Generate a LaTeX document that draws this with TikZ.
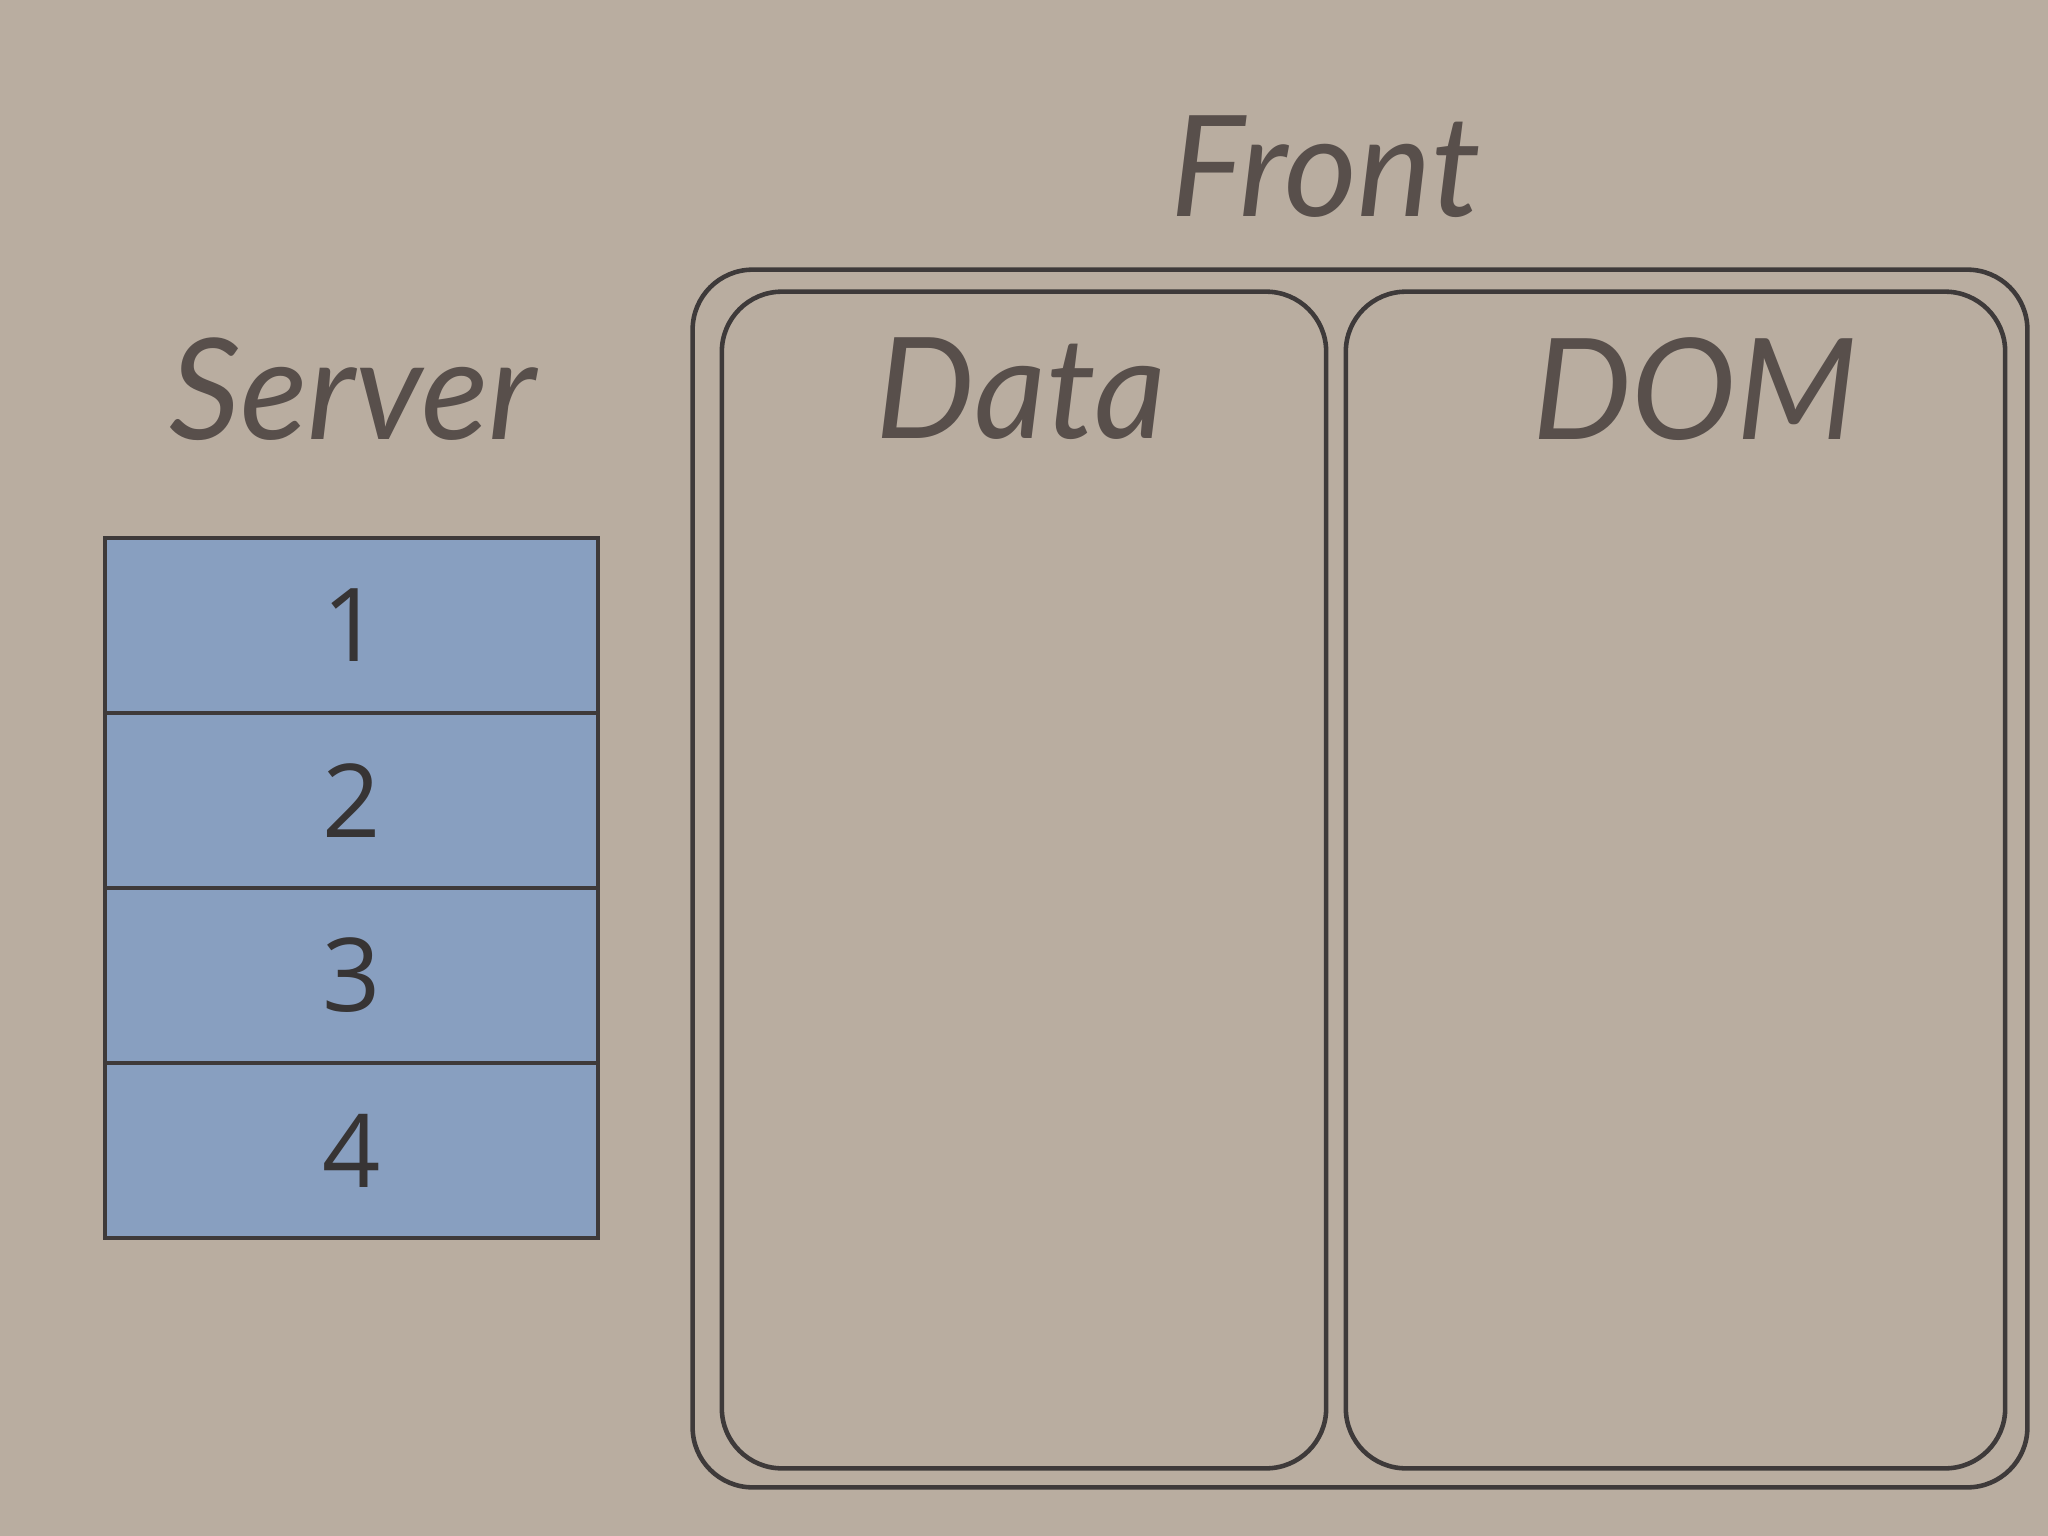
\documentclass[tikz,border=0pt]{standalone}
\usepackage{fontspec}
\setmainfont{Lato}
\newfontfamily\digitfont{Open Sans}
\definecolor{paper1}{RGB}{185, 173, 160}
\definecolor{blue1}{RGB}{136, 159, 192}
\definecolor{ink1}{RGB}{88, 79, 75}
\definecolor{ink2}{RGB}{55, 52, 52}
\definecolor{line1}{RGB}{62, 58, 58}
\tikzset{
  title/.style={text=ink1, font=\fontsize{40}{48}\selectfont\itshape},
  cell/.style={rectangle, draw=line1, fill=blue1, minimum width=4.93cm, minimum height=1.75cm, inner sep=0pt, text=ink2, font=\digitfont\fontsize{29}{34}\selectfont},
  pane/.style={rectangle, rounded corners=0.6cm, draw=line1, inner sep=0pt}
}
\begin{document}
\begin{tikzpicture}[x=0.01cm, y=-0.01cm, line width=1.3pt]
  \fill[paper1] (0,0) rectangle (2048,1536);
  \useasboundingbox (0,0) rectangle (2048,1536);
  \node[pane, minimum width=13.34cm, minimum height=12.17cm] (front) at (1360,878.5) {};
  \node[pane, minimum width=6.04cm, minimum height=11.76cm] (data) at (1024,880) {};
  \node[pane, minimum width=6.59cm, minimum height=11.76cm] (dom) at (1675.5,880) {};
  \node[title] (lfront) at (1326,167) {Front};
  \node[title] (lserver) at (353,389) {Server};
  \node[title] (ldata) at (1021,389) {Data};
  \node[title] (ldom) at (1695,389) {DOM};
  \foreach \i/\y in {1/625.5, 2/800.5, 3/975.5, 4/1150.5}
   \node[cell] (s\i) at (351.5,\y) {\i};
\end{tikzpicture}
\end{document}
